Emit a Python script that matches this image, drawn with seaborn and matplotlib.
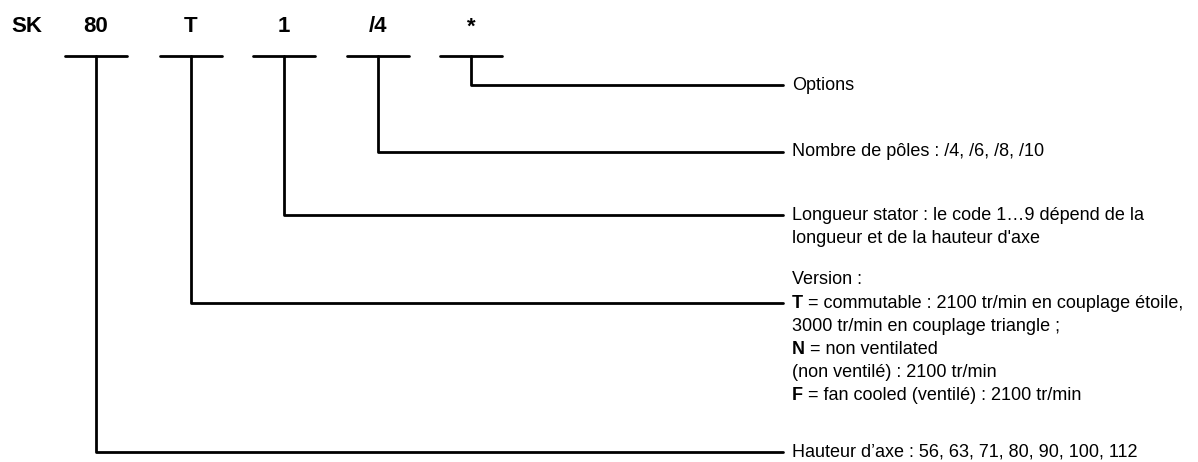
import matplotlib
matplotlib.use("Agg")
import matplotlib.pyplot as plt
import pandas as pd
import seaborn as sns

# type code parts, left to right
codes = ["SK", "80", "T", "1", "/4", "*"]

# description for each part (runs of (bold, normal) text per line)
desc_80 = [[("", "Hauteur d\u2019axe : 56, 63, 71, 80, 90, 100, 112")]]
desc_T = [
    [("", "Version :")],
    [("T", " = commutable : 2100 tr/min en couplage \u00e9toile,")],
    [("", "3000 tr/min en couplage triangle ;")],
    [("N", " = non ventilated")],
    [("", "(non ventil\u00e9) : 2100 tr/min")],
    [("F", " = fan cooled (ventil\u00e9) : 2100 tr/min")],
]
desc_1 = [
    [("", "Longueur stator : le code 1\u20269 d\u00e9pend de la")],
    [("", "longueur et de la hauteur d'axe")],
]
desc_4 = [[("", "Nombre de p\u00f4les : /4, /6, /8, /10")]]
desc_star = [[("", "Options")]]

descriptions = {"80": desc_80, "T": desc_T, "1": desc_1, "/4": desc_4, "*": desc_star}
leader_line = {"80": 0, "T": 1, "1": 0, "/4": 0, "*": 0}   # which line the leader points to

# layout (pixels)
W, H = 1198, 462
code_x = [27, 96, 191, 284, 378, 471]
code_y = 27
bar_y = 56
bar_half = 31
line_end = 783
text_x = 792
line_h = 23.2
block_top = {"80": 452, "T": 280, "1": 215, "/4": 152, "*": 85}
fs_desc = 13
fs_code = 16

sns.set_theme(style="white")
plt.rcParams["font.family"] = ["Liberation Sans", "DejaVu Sans"]

fig = plt.figure(figsize=(W / 100, H / 100), dpi=100)
ax = fig.add_axes([0, 0, 1, 1])

# build all line segments
rows = []
seg = 0
for c, x in zip(codes[1:], code_x[1:]):
    # short bar under the code
    rows += [(x - bar_half, bar_y, seg), (x + bar_half, bar_y, seg)]
    seg += 1
    # leader down and right to the description
    ly = block_top[c] + leader_line[c] * line_h
    rows += [(x, bar_y, seg), (x, ly, seg), (line_end, ly, seg)]
    seg += 1
lines = pd.DataFrame(rows, columns=["x", "y", "seg"])

sns.lineplot(data=lines, x="x", y="y", units="seg", estimator=None, sort=False,
             color="black", lw=2, ax=ax, legend=False)
ax.set_xlim(0, W)
ax.set_ylim(H, 0)
ax.axis("off")

for c, x in zip(codes, code_x):
    ax.text(x, code_y, c, ha="center", va="center", fontsize=fs_code,
            fontweight="bold", color="black")

fig.canvas.draw()
renderer = fig.canvas.get_renderer()
inv = ax.transData.inverted()

for c in codes[1:]:
    for i, runs in enumerate(descriptions[c]):
        y = block_top[c] + i * line_h
        x = text_x
        for bold, normal in runs:
            if bold:
                t = ax.text(x, y, bold, ha="left", va="center", fontsize=fs_desc,
                            fontweight="bold", color="black")
                bb = t.get_window_extent(renderer)
                x = inv.transform((bb.x1, bb.y0))[0]
            ax.text(x, y, normal, ha="left", va="center", fontsize=fs_desc, color="black")

fig.savefig("out.png", dpi=100, facecolor="white")
